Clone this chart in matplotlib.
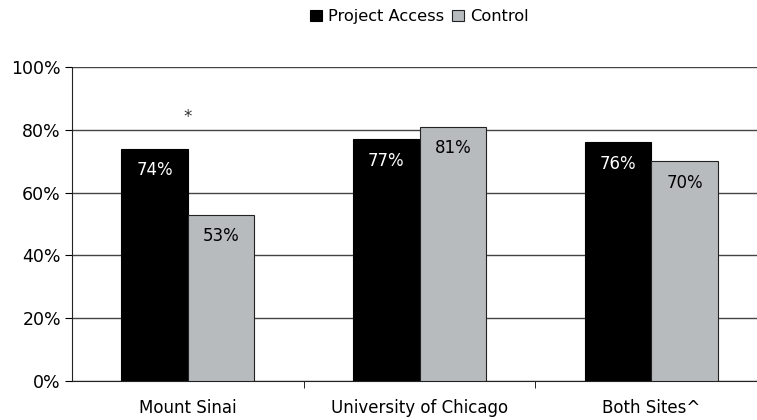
import numpy as np
import matplotlib
matplotlib.use("Agg")
import matplotlib.pyplot as plt

sites = ["Mount Sinai", "University of Chicago", "Both Sites^"]
project_access = [74, 77, 76]
control = [53, 81, 70]
series_names = ["Project Access", "Control"]
sig_marks = ["*", "", ""]

plt.rcParams['font.family'] = ['DejaVu Sans']

fig = plt.figure(figsize=(7.57, 4.2), dpi=100)
ax = fig.add_axes([72/757, 1-381/420, 695/757, 314/420])

x = np.arange(len(sites))
w = 0.2875
b1 = ax.bar(x - w/2, project_access, w, color="black", edgecolor="black", lw=0.8,
            label=series_names[0], zorder=3)
b2 = ax.bar(x + w/2, control, w, color="#b7bbbd", edgecolor="#222222", lw=0.8,
            label=series_names[1], zorder=3)

for r, v in zip(b1, project_access):
    ax.text(r.get_x()+r.get_width()/2, v-6.8, f"{v}%", ha="center", va="center",
            color="white", fontsize=12)
for r, v in zip(b2, control):
    ax.text(r.get_x()+r.get_width()/2, v-6.8, f"{v}%", ha="center", va="center",
            color="black", fontsize=12, zorder=4)
for xi, m in zip(x, sig_marks):
    if m:
        ax.text(xi, 84, m, ha="center", va="center", fontsize=12, color="#333333")

ax.set_xlim(-0.5, len(sites)-0.5)
ax.set_ylim(0, 100)
ax.set_yticks(range(0, 101, 20))
ax.set_yticklabels([f"{t}%" for t in range(0, 101, 20)], fontsize=12.5)
ax.set_xticks(x)
ax.set_xticklabels(sites, fontsize=12)
ax.set_xticks(x[:-1] + 0.5, minor=True)
ax.tick_params(axis="x", which="major", length=0, pad=13)
ax.tick_params(axis="x", which="minor", length=5, direction="out")
ax.tick_params(axis="y", length=5, direction="out", pad=3)
ax.yaxis.grid(True, color="#444444", lw=1, zorder=0)
ax.spines["top"].set_visible(False)
ax.spines["right"].set_visible(False)
ax.spines["left"].set_color("#222222")
ax.spines["bottom"].set_color("#222222")

fig.legend(loc="upper center", bbox_to_anchor=(0.554, 1.013), ncol=2, frameon=False,
           fontsize=11.7, handlelength=0.75, handleheight=0.75, handletextpad=0.35,
           columnspacing=0.5)

fig.savefig("out.png", dpi=100)
